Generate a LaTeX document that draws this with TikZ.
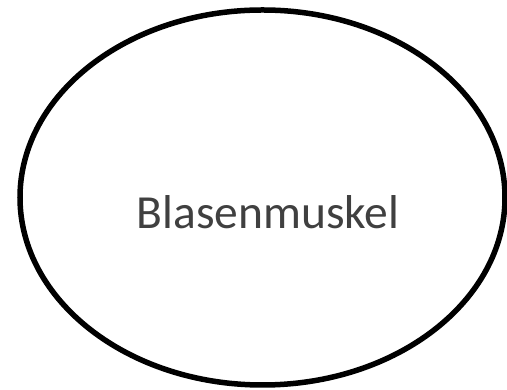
\documentclass[tikz,border=0pt]{standalone}
\usepackage{fontspec}
\setmainfont{Carlito}
\definecolor{labelgray}{HTML}{404040}
\begin{document}
\begin{tikzpicture}[x=1pt,y=1pt,
  outline/.style={draw=black,line width=5.5pt},
  label/.style={text=labelgray,font=\fontsize{47.5}{52}\selectfont,inner sep=0pt,anchor=base}]
  \useasboundingbox (0,0) rectangle (507,390);
  % muscle outline
  \draw[outline] (262.5,192.5) ellipse [x radius=242.5, y radius=187.5];
  \node[label] (muskel) at (268,161) {Blasenmuskel};
\end{tikzpicture}
\end{document}
